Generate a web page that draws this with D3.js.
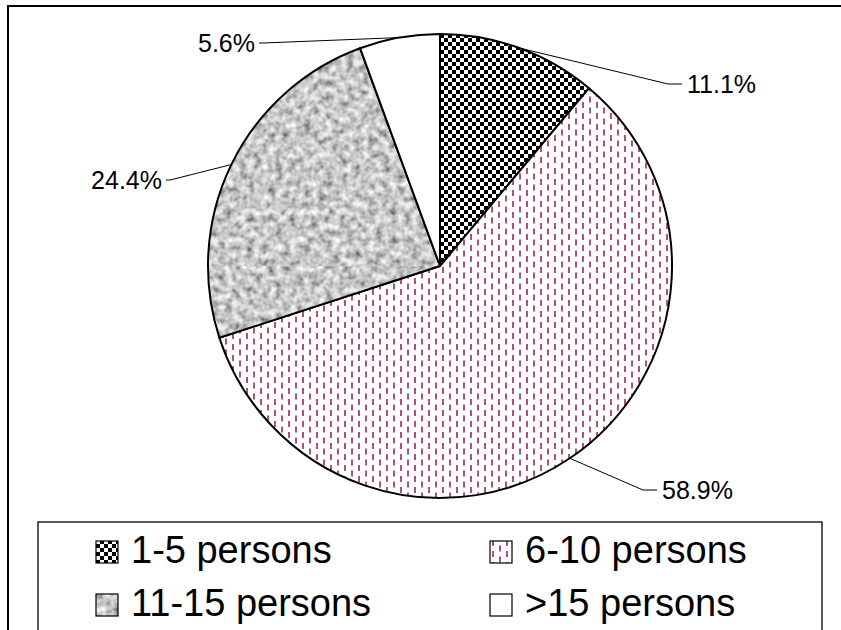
<!DOCTYPE html>
<html><head><meta charset="utf-8">
<script src="https://cdn.jsdelivr.net/npm/d3@7"></script>
<style>body{margin:0;background:#fff}svg{display:block}text{font-family:"Liberation Sans",Arial,sans-serif;fill:#000}</style>
</head><body>
<script>
const categories = ["1-5 persons", "6-10 persons", "11-15 persons", ">15 persons"];
const values = [11.1, 58.9, 24.4, 5.6];
const labels = ["11.1%", "58.9%", "24.4%", "5.6%"];
const patternIds = ["pChk", "pDash", "pNoise", "pWhite"];

const W = 841, H = 630;
const svg = d3.select("body").append("svg").attr("width", W).attr("height", H);
const defs = svg.append("defs");

// checkerboard pattern
const chk = defs.append("pattern").attr("id", "pChk").attr("patternUnits", "userSpaceOnUse")
  .attr("width", 8).attr("height", 8);
chk.append("rect").attr("width", 8).attr("height", 8).attr("fill", "#fff");
chk.append("rect").attr("x", 0).attr("y", 0).attr("width", 4).attr("height", 4).attr("fill", "#000");
chk.append("rect").attr("x", 4).attr("y", 4).attr("width", 4).attr("height", 4).attr("fill", "#000");

// dashed vertical lines pattern
const dash = defs.append("pattern").attr("id", "pDash").attr("patternUnits", "userSpaceOnUse")
  .attr("width", 14).attr("height", 11);
dash.append("rect").attr("width", 14).attr("height", 11).attr("fill", "#fff");
dash.append("rect").attr("x", 2).attr("y", 1).attr("width", 2).attr("height", 6).attr("fill", "#b0507f");
dash.append("rect").attr("x", 9).attr("y", 6.5).attr("width", 2).attr("height", 6).attr("fill", "#b0507f");
dash.append("rect").attr("x", 9).attr("y", -4.5).attr("width", 2).attr("height", 6).attr("fill", "#b0507f");

// noise pattern via filter
const f = defs.append("filter").attr("id", "noiseF").attr("x", 0).attr("y", 0).attr("width", "100%").attr("height", "100%");
f.append("feTurbulence").attr("type", "fractalNoise").attr("baseFrequency", 0.14).attr("numOctaves", 2).attr("seed", 5).attr("result", "t");
f.append("feColorMatrix").attr("in", "t").attr("type", "matrix")
  .attr("values", "1.2 0 0 0 -0.02  1.2 0 0 0 -0.02  1.2 0 0 0 -0.02  0 0 0 0 1");
const noise = defs.append("pattern").attr("id", "pNoise").attr("patternUnits", "userSpaceOnUse")
  .attr("width", 250).attr("height", 250);
noise.append("rect").attr("width", 250).attr("height", 250).attr("fill", "#aaa").attr("filter", "url(#noiseF)");

const wp = defs.append("pattern").attr("id", "pWhite").attr("patternUnits", "userSpaceOnUse").attr("width", 4).attr("height", 4);
wp.append("rect").attr("width", 4).attr("height", 4).attr("fill", "#fff");

// outer frame
svg.append("rect").attr("x", 8).attr("y", 6).attr("width", 900).attr("height", 700)
  .attr("fill", "none").attr("stroke", "#000").attr("stroke-width", 2);

const cx = 440, cy = 266, R = 232;
const pie = d3.pie().sort(null).value(d => d)(values);
const arc = d3.arc().innerRadius(0).outerRadius(R);
const g = svg.append("g").attr("transform", `translate(${cx},${cy})`);
g.selectAll("path.slice").data(pie).join("path").attr("class", "slice")
  .attr("d", arc).attr("fill", (d, i) => `url(#${patternIds[i]})`)
  .attr("stroke", "#000").attr("stroke-width", 2).attr("stroke-linejoin", "round");

// labels with leader lines (elbow positions relative to centre)
const elbow = [[228, -182], [203, 224], [-270, -86], [-177, -223]];
const anchors = ["start", "start", "end", "end"];
pie.forEach((d, i) => {
  const a = (d.startAngle + d.endAngle) / 2;
  const px = R * Math.sin(a), py = -R * Math.cos(a);
  const [ex, ey] = elbow[i];
  const hx = anchors[i] === "start" ? ex + 14 : ex - 4;
  g.append("polyline").attr("points", `${px},${py} ${ex},${ey} ${hx},${ey}`)
    .attr("fill", "none").attr("stroke", "#000").attr("stroke-width", 1);
  g.append("text").attr("x", anchors[i] === "start" ? hx + 5 : hx - 4).attr("y", ey + 9)
    .attr("text-anchor", anchors[i]).attr("font-size", 25).text(labels[i]);
});

// legend
svg.append("rect").attr("x", 38).attr("y", 522).attr("width", 784).attr("height", 200)
  .attr("fill", "#fff").attr("stroke", "#222").attr("stroke-width", 1.5);
const legCols = [96, 490], legRows = [541, 594];
categories.forEach((c, i) => {
  const x = legCols[i % 2], y = legRows[Math.floor(i / 2)];
  svg.append("rect").attr("x", x).attr("y", y).attr("width", 22).attr("height", 22)
    .attr("fill", `url(#${patternIds[i]})`).attr("stroke", "#000").attr("stroke-width", 1.2);
  svg.append("text").attr("x", x + 35).attr("y", y + 22).attr("font-size", 38).text(c);
});
</script>
</body></html>
